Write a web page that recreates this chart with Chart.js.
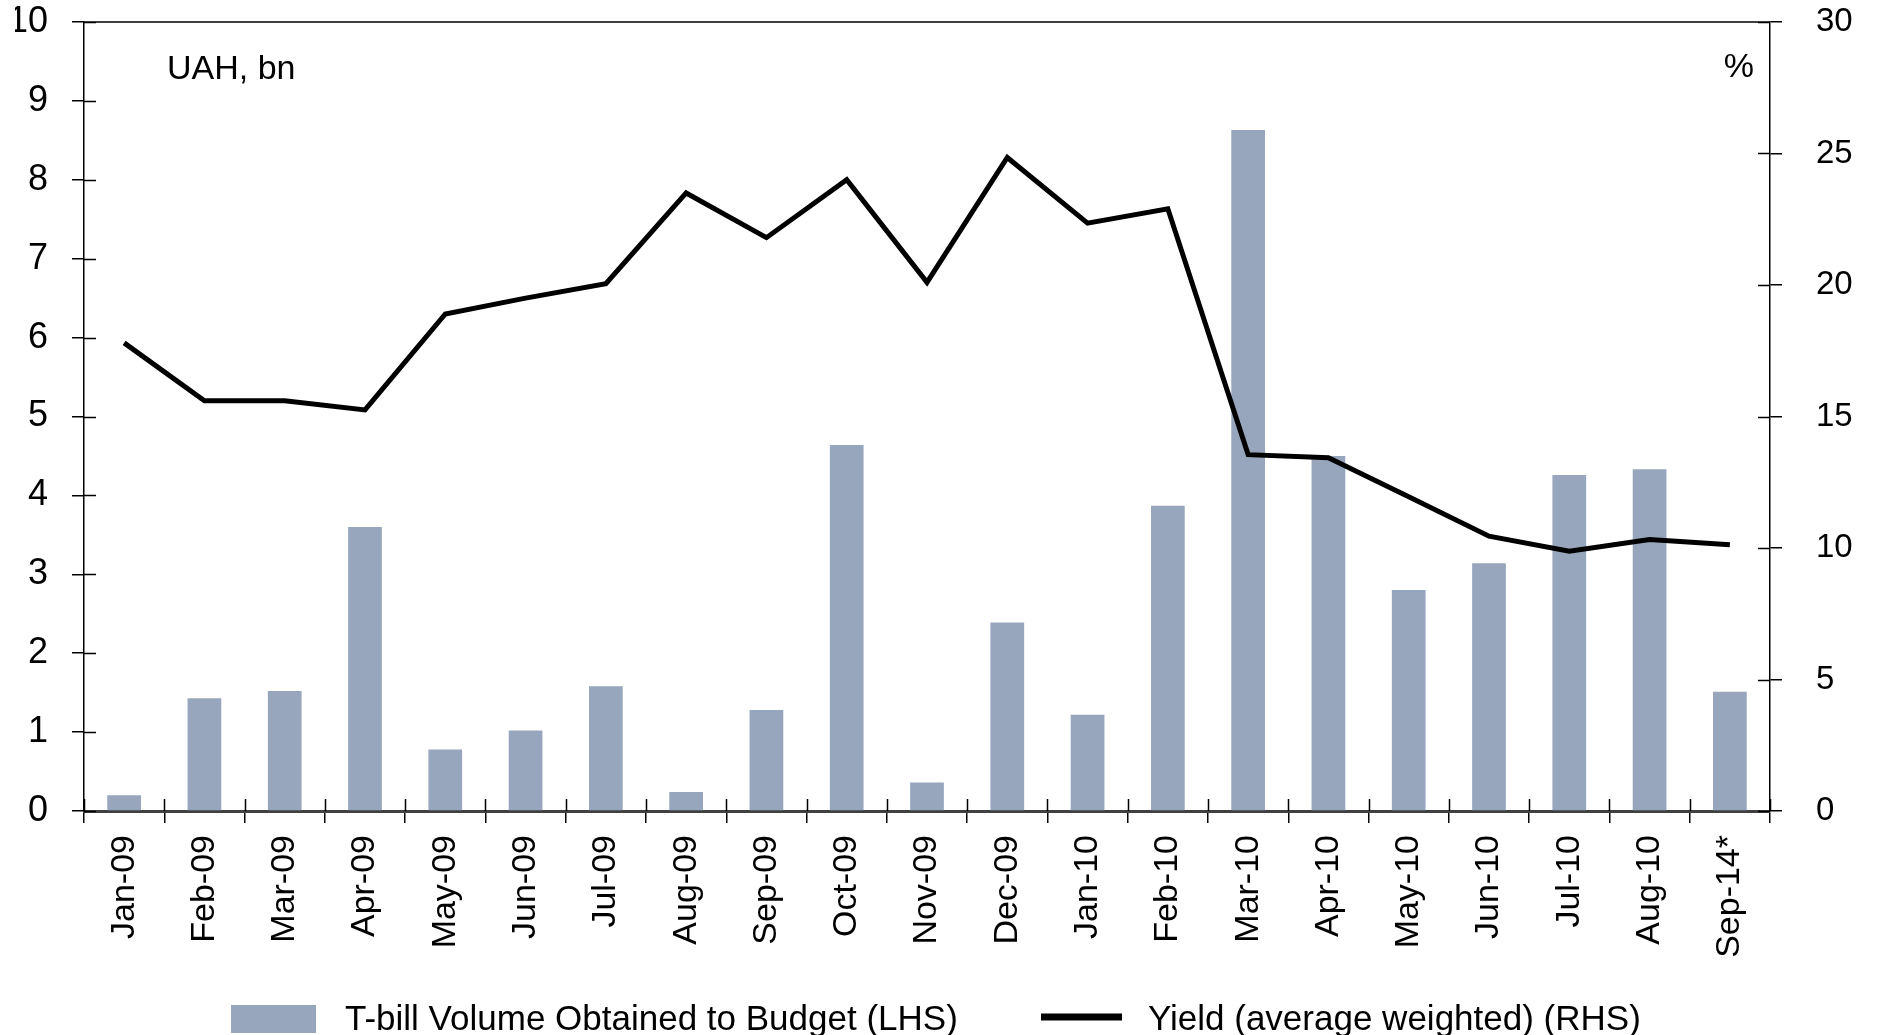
<!DOCTYPE html>
<html>
<head>
<meta charset="utf-8">
<script src="https://cdn.jsdelivr.net/npm/chart.js@4/dist/chart.umd.min.js"></script>
<style>
  html, body { margin: 0; padding: 0; background: #fff; }
  #wrap { width: 1879px; height: 1035px; }
</style>
</head>
<body>
<div id="wrap"><canvas id="grafico" width="1879" height="1035"></canvas></div>
<script>
// datos
const meses = ['Jan-09', 'Feb-09', 'Mar-09', 'Apr-09', 'May-09', 'Jun-09', 'Jul-09',
  'Aug-09', 'Sep-09', 'Oct-09', 'Nov-09', 'Dec-09', 'Jan-10', 'Feb-10', 'Mar-10',
  'Apr-10', 'May-10', 'Jun-10', 'Jul-10', 'Aug-10', 'Sep-14*'];
const volumen = [0.2, 1.43, 1.52, 3.6, 0.78, 1.02, 1.58, 0.24, 1.28, 4.64, 0.36,
  2.39, 1.22, 3.87, 8.63, 4.5, 2.8, 3.14, 4.26, 4.33, 1.51];
const rendimiento = [17.8, 15.6, 15.6, 15.25, 18.9, 19.5, 20.05, 23.5, 21.8, 24.0,
  20.1, 24.85, 22.35, 22.9, 13.55, 13.43, 11.95, 10.45, 9.88, 10.32, 10.12];
const ticksIzq = [0, 1, 2, 3, 4, 5, 6, 7, 8, 9, 10];
const ticksDer = [0, 5, 10, 15, 20, 25, 30];

const nombreBarras = 'T-bill Volume Obtained to Budget (LHS)';
const nombreLinea = 'Yield (average weighted) (RHS)';
const colorBarras = '#97a6bc';
const fuente = 'Liberation Sans, Arial, sans-serif';

// tamaños fijos de los ejes, sin el relleno automatico de Chart.js
const fijar = (ancho, alto) => s => {
  s.paddingLeft = 0; s.paddingRight = 0; s.paddingTop = 0; s.paddingBottom = 0;
  if (ancho) s.width = ancho;
  if (alto) s.height = alto;
};

// marcas que cruzan los ejes, marco superior, unidades y leyenda
const extras = {
  id: 'extras',
  afterDraw(chart) {
    const ctx = chart.ctx;
    const area = chart.chartArea;
    const x = chart.scales.x;
    const y = chart.scales.y;
    const y1 = chart.scales.y1;
    ctx.save();
    ctx.strokeStyle = '#000';
    ctx.lineWidth = 1.5;
    ctx.beginPath();
    ctx.moveTo(area.left, area.top);
    ctx.lineTo(area.right, area.top);
    ticksIzq.forEach(v => {
      const py = Math.round(y.getPixelForValue(v)) + 0.5;
      ctx.moveTo(area.left, py);
      ctx.lineTo(area.left + 12, py);
    });
    ticksDer.forEach(v => {
      const py = Math.round(y1.getPixelForValue(v)) + 0.5;
      ctx.moveTo(area.right, py);
      ctx.lineTo(area.right - 12, py);
    });
    const paso = (x.getPixelForValue(1) - x.getPixelForValue(0));
    for (let i = 0; i <= meses.length; i++) {
      const px = Math.round(x.getPixelForValue(i) - paso / 2) + 0.5;
      ctx.moveTo(px, area.bottom);
      ctx.lineTo(px, area.bottom - 12);
    }
    ctx.stroke();

    ctx.fillStyle = '#000';
    ctx.font = '34px ' + fuente;
    ctx.textBaseline = 'middle';
    ctx.textAlign = 'left';
    ctx.fillText('UAH, bn', area.left + 83, area.top + 48);
    ctx.textAlign = 'right';
    ctx.fillText('%', area.right - 16, area.top + 46);

    // leyenda
    ctx.font = '35px ' + fuente;
    ctx.textAlign = 'left';
    ctx.fillStyle = colorBarras;
    ctx.fillRect(231, 1005, 85, 28);
    ctx.fillStyle = '#000';
    ctx.fillText(nombreBarras, 345, 1020);
    ctx.lineWidth = 7;
    ctx.beginPath();
    ctx.moveTo(1041, 1017);
    ctx.lineTo(1122, 1017);
    ctx.stroke();
    ctx.fillText(nombreLinea, 1148, 1020);
    ctx.restore();
  }
};

new Chart(document.getElementById('grafico'), {
  data: {
    labels: meses,
    datasets: [
      {
        type: 'line',
        label: nombreLinea,
        data: rendimiento,
        yAxisID: 'y1',
        borderColor: '#000',
        borderWidth: 5,
        pointRadius: 0,
        tension: 0,
        order: 0
      },
      {
        type: 'bar',
        label: nombreBarras,
        data: volumen,
        yAxisID: 'y',
        backgroundColor: colorBarras,
        barPercentage: 0.42,
        categoryPercentage: 1,
        order: 1
      }
    ]
  },
  options: {
    responsive: false,
    animation: false,
    layout: { padding: { left: 15, right: 24, top: 22, bottom: 0 } },
    plugins: {
      legend: { display: false },
      tooltip: { enabled: false }
    },
    scales: {
      x: {
        offset: true,
        afterFit: fijar(0, 224),
        grid: { display: true, drawOnChartArea: false, offset: true, tickLength: 12, color: '#000', lineWidth: 1.5 },
        border: { color: '#404040', width: 3 },
        ticks: {
          color: '#000',
          font: { family: fuente, size: 34 },
          minRotation: 90,
          maxRotation: 90,
          padding: 12,
          autoSkip: false
        }
      },
      y: {
        position: 'left',
        min: 0,
        max: 10,
        afterFit: fijar(69, 0),
        afterBuildTicks: s => { s.ticks = ticksIzq.map(v => ({ value: v })); },
        grid: { drawOnChartArea: false, tickLength: 12, color: '#000', lineWidth: 1.5 },
        border: { color: '#000', width: 1.5 },
        ticks: { color: '#000', font: { family: fuente, size: 36 }, padding: 24 }
      },
      y1: {
        position: 'right',
        min: 0,
        max: 30,
        afterFit: fijar(85, 0),
        afterBuildTicks: s => { s.ticks = ticksDer.map(v => ({ value: v })); },
        grid: { drawOnChartArea: false, tickLength: 12, color: '#000', lineWidth: 1.5 },
        border: { color: '#000', width: 1.5 },
        ticks: { color: '#000', font: { family: fuente, size: 33 }, padding: 34 }
      }
    }
  },
  plugins: [extras]
});
</script>
</body>
</html>
